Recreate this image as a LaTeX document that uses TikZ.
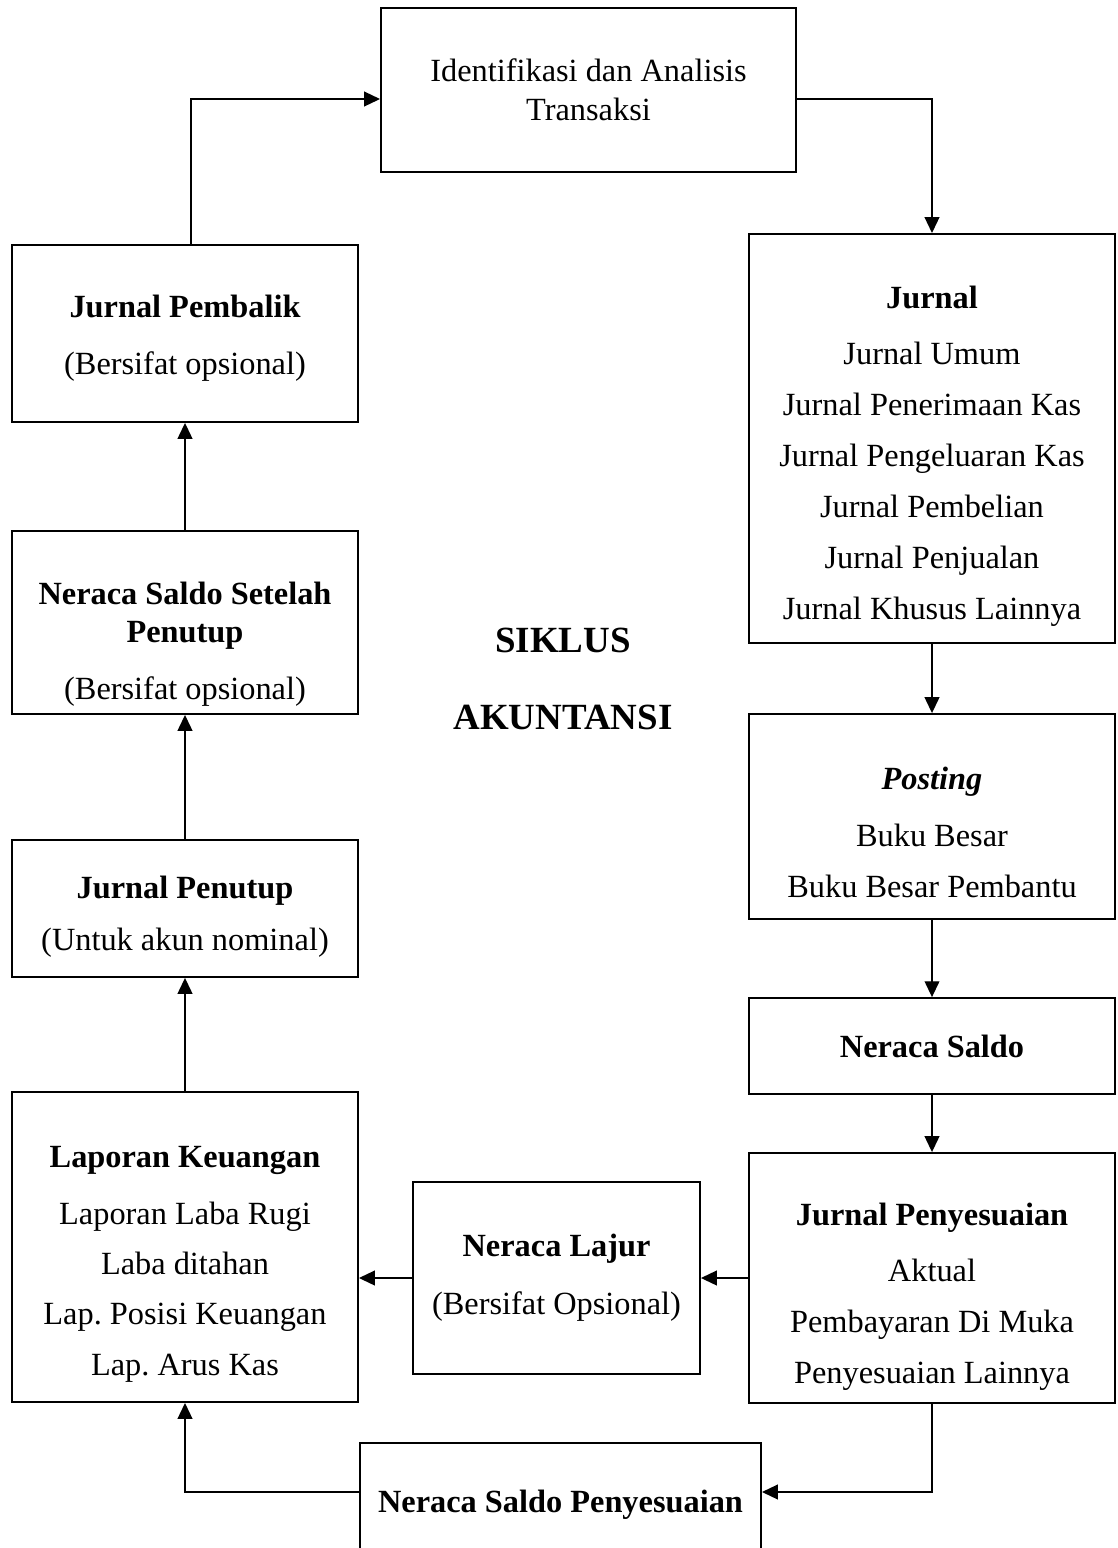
\documentclass[tikz,border=0pt]{standalone}
\usepackage{fontspec}
\setmainfont{Liberation Serif}
\usetikzlibrary{arrows.meta}
\newcommand{\turun}[1]{\rule{0pt}{#1}}

\begin{document}
\begin{tikzpicture}[x=0.01cm,y=-0.01cm,
        box/.style={draw,line width=0.5pt,align=center,inner sep=2pt,font=\fontsize{9.2}{11}\selectfont},
        arr/.style={line width=0.4pt,-{Triangle[length=4.5pt,width=4.2pt]}}]
                \useasboundingbox (0,0) rectangle (1117,1548);
                % kolom kanan
                \node[box,minimum width=4.15cm,minimum height=1.64cm] (ident) at (588.5,90) {Identifikasi dan Analisis\\Transaksi};
                \node[box,minimum width=3.66cm,minimum height=4.09cm] (jurnal) at (932,438.5) {\turun{16.5pt}\textbf{Jurnal}\\[5pt]Jurnal Umum\\[3.5pt]Jurnal Penerimaan Kas\\[3.5pt]Jurnal Pengeluaran Kas\\[3.5pt]Jurnal Pembelian\\[3.5pt]Jurnal Penjualan\\[3.5pt]Jurnal Khusus Lainnya};
                \node[box,minimum width=3.66cm,minimum height=2.05cm] (posting) at (932,816.5) {\turun{15.4pt}\textbf{\textit{Posting}}\\[5pt]Buku Besar\\[3.5pt]Buku Besar Pembantu};
                \node[box,minimum width=3.66cm,minimum height=0.96cm] (saldo) at (932,1046) {\textbf{Neraca Saldo}};
                \node[box,minimum width=3.66cm,minimum height=2.50cm] (penyesuaian) at (932,1278) {\turun{17pt}\textbf{Jurnal Penyesuaian}\\[5pt]Aktual\\[3.5pt]Pembayaran Di Muka\\[3.5pt]Penyesuaian Lainnya};
                % bawah dan tengah
                \node[box,minimum width=2.87cm,minimum height=1.92cm] (lajur) at (556.5,1278) {\textbf{Neraca Lajur}\\[5.5pt](Bersifat Opsional)};
                \node[box,minimum width=4.01cm,minimum height=1.24cm] (saldopenyesuaian) at (560.5,1505) {\textbf{Neraca Saldo Penyesuaian}};
                % kolom kiri
                \node[box,minimum width=3.46cm,minimum height=3.10cm] (laporan) at (185,1247) {\turun{15.9pt}\textbf{Laporan Keuangan}\\[5pt]Laporan Laba Rugi\\[3.3pt]Laba ditahan\\[3.3pt]Lap.\ Posisi Keuangan\\[3.3pt]Lap.\ Arus Kas};
                \node[box,minimum width=3.46cm,minimum height=1.37cm] (penutup) at (185,908.5) {\turun{10.9pt}\textbf{Jurnal Penutup}\\[3.8pt](Untuk akun nominal)};
                \node[box,minimum width=3.46cm,minimum height=1.83cm] (setelahpenutup) at (185,622.5) {\turun{18.8pt}\textbf{Neraca Saldo Setelah}\\\textbf{Penutup}\\[5.2pt](Bersifat opsional)};
                \node[box,minimum width=3.46cm,minimum height=1.77cm] (pembalik) at (185,333.5) {\turun{9.1pt}\textbf{Jurnal Pembalik}\\[5pt](Bersifat opsional)};
                \node[font=\fontsize{10.5}{12}\selectfont\bfseries,align=center] (judul) at (563,679) {SIKLUS\\[10pt]AKUNTANSI};
                % panah siklus
                \draw[arr] ([yshift=-0.09cm]ident.east) -| (jurnal.north);
                \draw[arr] (jurnal) -- (posting);
                \draw[arr] (posting) -- (saldo);
                \draw[arr] (saldo) -- (penyesuaian);
                \draw[arr] (penyesuaian.west) -- (penyesuaian.west -| lajur.east);
                \draw[arr] (lajur.west) -- (lajur.west -| laporan.east);
                \draw[arr] (penyesuaian.south) |- ([yshift=0.13cm]saldopenyesuaian.east);
                \draw[arr] ([yshift=0.13cm]saldopenyesuaian.west) -| (laporan.south);
                \draw[arr] (laporan) -- (penutup);
                \draw[arr] (penutup) -- (setelahpenutup);
                \draw[arr] (setelahpenutup) -- (pembalik);
                \draw[arr] ([xshift=0.06cm]pembalik.north) |- ([yshift=-0.09cm]ident.west);
            \end{tikzpicture}
\end{document}
